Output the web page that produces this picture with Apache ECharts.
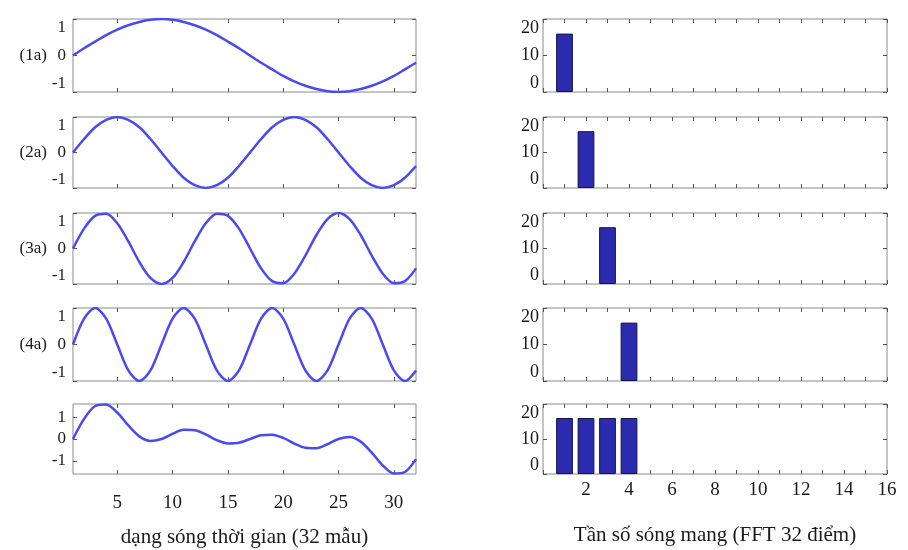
<!DOCTYPE html>
<html><head><meta charset="utf-8">
<script src="https://cdn.jsdelivr.net/npm/echarts@6/dist/echarts.min.js"></script>
<style>html,body{margin:0;padding:0;background:#fff}#c{width:908px;height:550px}</style>
</head><body><div id="c"></div>
<script>
// ---- data ----
const sampleIndex = [1,2,3,4,5,6,7,8,9,10,11,12,13,14,15,16,17,18,19,20,21,22,23,24,25,26,27,28,29,30,31,32];
const wave1a = [0,0.20,0.38,0.56,0.71,0.83,0.92,0.98,1,0.98,0.92,0.83,0.71,0.56,0.38,0.20,0,-0.20,-0.38,-0.56,-0.71,-0.83,-0.92,-0.98,-1,-0.98,-0.92,-0.83,-0.71,-0.56,-0.38,-0.20];
const wave2a = [0,0.38,0.71,0.92,1,0.92,0.71,0.38,0,-0.38,-0.71,-0.92,-1,-0.92,-0.71,-0.38,0,0.38,0.71,0.92,1,0.92,0.71,0.38,0,-0.38,-0.71,-0.92,-1,-0.92,-0.71,-0.38];
const wave3a = [0,0.56,0.92,0.98,0.71,0.20,-0.38,-0.83,-1,-0.83,-0.38,0.20,0.71,0.98,0.92,0.56,0,-0.56,-0.92,-0.98,-0.71,-0.20,0.38,0.83,1,0.83,0.38,-0.20,-0.71,-0.98,-0.92,-0.56];
const wave4a = [0,0.71,1,0.71,0,-0.71,-1,-0.71,0,0.71,1,0.71,0,-0.71,-1,-0.71,0,0.71,1,0.71,0,-0.71,-1,-0.71,0,0.71,1,0.71,0,-0.71,-1,-0.71];
const waveSum = [0,0.92,1.51,1.58,1.21,0.62,0.12,-0.09,0,0.24,0.42,0.40,0.21,-0.05,-0.20,-0.17,0,0.17,0.20,0.05,-0.21,-0.40,-0.42,-0.24,0,0.09,-0.12,-0.62,-1.21,-1.58,-1.51,-0.92];
const freqIndex = [1,2,3,4,5,6,7,8,9,10,11,12,13,14,15];
const fft1a = [16,0,0,0,0,0,0,0,0,0,0,0,0,0,0];
const fft2a = [0,16,0,0,0,0,0,0,0,0,0,0,0,0,0];
const fft3a = [0,0,16,0,0,0,0,0,0,0,0,0,0,0,0];
const fft4a = [0,0,0,16,0,0,0,0,0,0,0,0,0,0,0];
const fftSum = [16,16,16,16,0,0,0,0,0,0,0,0,0,0,0];
const rowNames = ['(1a)','(2a)','(3a)','(4a)',''];
const timeTicks = [5,10,15,20,25,30];
const freqTicks = [2,4,6,8,10,12,14,16];
const waveTicks = [-1,0,1];
const timeTitle = 'dạng sóng thời gian (32 mẫu)';
const freqTitle = 'Tần số sóng mang (FFT 32 điểm)';

// ---- layout ----
const waves = [wave1a, wave2a, wave3a, wave4a, waveSum];
const ffts = [fft1a, fft2a, fft3a, fft4a, fftSum];
const rowTop = [19,117,213,308,404];
const rowH = [73,71,71,73,70];
const FONT = 'Liberation Serif';
const TXT = '#1a1a1a';
const TICK = '#555';
const grid = [], xAxis = [], yAxis = [], series = [];

function tickStyle(extra){
  return Object.assign({show:true, inside:true, length:4, lineStyle:{color:TICK}}, extra || {});
}
function hiddenAxis(extra){
  return Object.assign({
    type:'value', axisLine:{show:false, onZero:false}, axisLabel:{show:false}, splitLine:{show:false},
    axisTick:tickStyle()
  }, extra);
}

for (let r = 0; r < 5; r++) {
  const last = r === 4;
  // left grid
  const gL = grid.length;
  grid.push({left:73, top:rowTop[r], width:343, height:rowH[r], show:true, borderColor:'#8a8a8a', borderWidth:1});
  const xb = xAxis.length;
  xAxis.push({
    type:'value', gridIndex:gL, min:1, max:32, position:'bottom',
    axisLine:{show:false, onZero:false}, splitLine:{show:false},
    axisTick:tickStyle({customValues:timeTicks}),
    axisLabel:{show:last, customValues:timeTicks, margin:20, fontFamily:FONT, fontSize:19, color:TXT},
    name: last ? timeTitle : '', nameLocation:'middle', nameGap:53,
    nameTextStyle:{fontFamily:FONT, fontSize:21, color:TXT}
  });
  xAxis.push(hiddenAxis({gridIndex:gL, min:1, max:32, position:'top', axisTick:tickStyle({customValues:timeTicks})}));
  const yl = yAxis.length;
  const yMin = last ? -1.6 : -1, yMax = last ? 1.6 : 1;
  yAxis.push({
    type:'value', gridIndex:gL, min:yMin, max:yMax, position:'left',
    axisLine:{show:false, onZero:false}, splitLine:{show:false},
    axisTick:tickStyle({customValues:waveTicks}),
    axisLabel:{customValues:waveTicks, margin:7, fontFamily:FONT, fontSize:17, color:TXT,
      verticalAlignMaxLabel: last ? null : 'top', verticalAlignMinLabel: last ? null : 'bottom'},
    name: rowNames[r], nameLocation:'middle', nameRotate:0, nameGap:20,
    nameTextStyle:{fontFamily:FONT, fontSize:17, color:TXT, align:'right', verticalAlign:'middle'}
  });
  yAxis.push(hiddenAxis({gridIndex:gL, min:yMin, max:yMax, position:'right', axisTick:tickStyle({customValues:waveTicks})}));
  series.push({
    type:'line', xAxisIndex:xb, yAxisIndex:yl, symbol:'none', clip:true, smooth:0.3,
    lineStyle:{color:'#4a4af2', width:2.5},
    data: sampleIndex.map((x,i)=>[x, waves[r][i]])
  });

  // right grid
  const gR = grid.length;
  grid.push({left:543, top:rowTop[r], width:344, height:rowH[r], show:true, borderColor:'#8a8a8a', borderWidth:1});
  const xb2 = xAxis.length;
  xAxis.push({
    type:'value', gridIndex:gR, min:0, max:16, interval:1, position:'bottom',
    axisLine:{show:false, onZero:false}, splitLine:{show:false},
    axisTick:tickStyle(),
    axisLabel:{show:last, customValues:freqTicks, margin:7, fontFamily:FONT, fontSize:19, color:TXT},
    name: last ? freqTitle : '', nameLocation:'middle', nameGap:51,
    nameTextStyle:{fontFamily:FONT, fontSize:21, color:TXT}
  });
  xAxis.push(hiddenAxis({gridIndex:gR, min:0, max:16, interval:1, position:'top'}));
  const yr = yAxis.length;
  yAxis.push({
    type:'value', gridIndex:gR, min:0, max:20, interval:10, position:'left',
    axisLine:{show:false, onZero:false}, splitLine:{show:false},
    axisTick:tickStyle(),
    axisLabel:{margin:4, fontFamily:FONT, fontSize:18, color:TXT,
      verticalAlignMaxLabel:'top', verticalAlignMinLabel:'bottom'}
  });
  yAxis.push(hiddenAxis({gridIndex:gR, min:0, max:20, interval:10, position:'right'}));
  series.push({
    type:'bar', xAxisIndex:xb2, yAxisIndex:yr, barWidth:'78%',
    itemStyle:{color:'#2b2bb0', borderColor:'#151540', borderWidth:1},
    data: freqIndex.map((f,i)=>[f, ffts[r][i] === 0 ? null : ffts[r][i]])
  });
}

const chart = echarts.init(document.getElementById('c'), null, {renderer:'canvas'});
chart.setOption({backgroundColor:'#fff', animation:false, grid, xAxis, yAxis, series});
</script></body></html>
